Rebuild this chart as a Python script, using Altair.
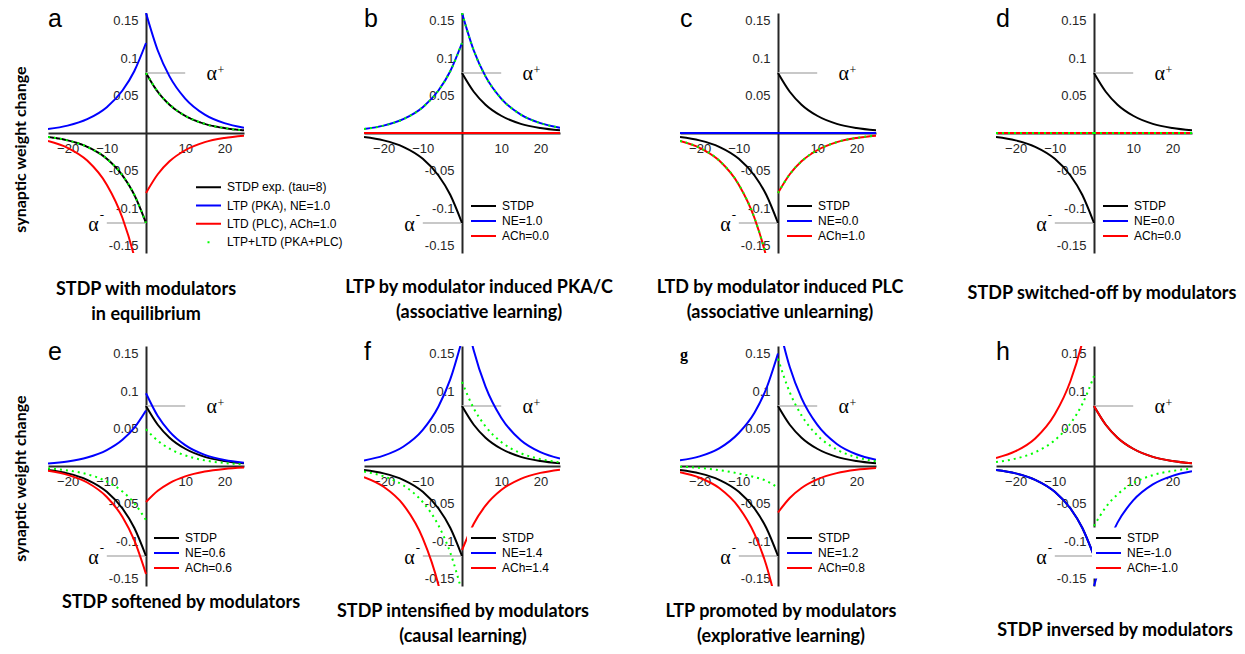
import altair as alt
import pandas as pd

# ---------------- data ----------------
XL = [-25, -20, -15, -10, -6, -3, 0]
XR = [0, 3, 6, 10, 15, 20, 25]

ZERO = [0, 0, 0, 0, 0, 0, 0]

STDP_L = [-0.0053, -0.0098, -0.0184, -0.0344, -0.0567, -0.0824, -0.12]
STDP_R = [0.08, 0.055, 0.0378, 0.023, 0.0122, 0.0066, 0.0035]

NE1_L = [0.0053, 0.0098, 0.0184, 0.0344, 0.0567, 0.0824, 0.12]
NE1_R = [0.16, 0.110, 0.0755, 0.0459, 0.0245, 0.0131, 0.0070]
ACH1_L = [-0.0106, -0.0197, -0.0367, -0.0689, -0.1133, -0.1649, -0.24]
ACH1_R = [-0.08, -0.055, -0.0378, -0.023, -0.0122, -0.0066, -0.0035]

E_NE_L = [0.0033, 0.0061, 0.0113, 0.0212, 0.0349, 0.0508, 0.074]
E_NE_R = [0.097, 0.0666, 0.0458, 0.0278, 0.0148, 0.008, 0.0043]
E_ACH_L = [-0.0063, -0.0118, -0.022, -0.0413, -0.068, -0.0989, -0.144]
E_ACH_R = [-0.048, -0.033, -0.0227, -0.0138, -0.0073, -0.0039, -0.0021]
E_SUM_L = [-0.0032, -0.0059, -0.011, -0.0207, -0.034, -0.0495, -0.072]
E_SUM_R = [0.049, 0.0337, 0.0231, 0.0141, 0.0075, 0.004, 0.0022]

F_NE_L = [0.0074, 0.0138, 0.0257, 0.0482, 0.0793, 0.1154, 0.168]
F_NE_R = [0.224, 0.1539, 0.1057, 0.0643, 0.0343, 0.0184, 0.0099]
F_ACH_L = [-0.0148, -0.0276, -0.0514, -0.0964, -0.1586, -0.2308, -0.336]
F_ACH_R = [-0.112, -0.0769, -0.0529, -0.0321, -0.0171, -0.0092, -0.0049]
F_SUM_L = [-0.0074, -0.0138, -0.0257, -0.0482, -0.0793, -0.1154, -0.168]
F_SUM_R = [0.112, 0.0769, 0.0529, 0.0321, 0.0171, 0.0092, 0.0049]

G_NE_L = [0.0075, 0.0128, 0.0235, 0.044, 0.071, 0.103, 0.15]
G_NE_R = [0.192, 0.1319, 0.0906, 0.0551, 0.0294, 0.0157, 0.0084]
G_ACH_L = [-0.0084, -0.0157, -0.0294, -0.0551, -0.0906, -0.1319, -0.192]
G_ACH_R = [-0.062, -0.0426, -0.0293, -0.0178, -0.0095, -0.0051, -0.0027]
G_SUM_L = [-0.001, -0.0025, -0.0055, -0.010, -0.0148, -0.0198, -0.029]
G_SUM_R = [0.143, 0.0982, 0.0675, 0.041, 0.0219, 0.0117, 0.0063]

H_NE_L = [-0.0053, -0.0098, -0.0184, -0.0344, -0.0567, -0.0824, -0.12]
H_NE_R = [-0.16, -0.110, -0.0755, -0.0459, -0.0245, -0.0131, -0.007]
H_ACH_L = [0.0106, 0.0197, 0.0367, 0.0689, 0.1133, 0.1649, 0.24]
H_ACH_R = [0.08, 0.055, 0.0378, 0.023, 0.0122, 0.0066, 0.0035]
H_SUM_L = [0.0053, 0.0098, 0.0184, 0.0344, 0.0567, 0.0824, 0.12]
H_SUM_R = [-0.08, -0.055, -0.0378, -0.023, -0.0122, -0.0066, -0.0035]

PANEL_IDS = ["a", "b", "c", "d", "e", "f", "g", "h"]
STDP_LABELS = ["STDP exp. (tau=8)", "STDP", "STDP", "STDP", "STDP", "STDP", "STDP", "STDP"]
NE_LABELS = ["LTP (PKA), NE=1.0", "NE=1.0", "NE=0.0", "NE=0.0", "NE=0.6", "NE=1.4", "NE=1.2", "NE=-1.0"]
ACH_LABELS = ["LTD (PLC), ACh=1.0", "ACh=0.0", "ACh=1.0", "ACh=0.0", "ACh=0.6", "ACh=1.4", "ACh=0.8", "ACh=-1.0"]
SUM_LABEL_A = "LTP+LTD (PKA+PLC)"

NE_DATA = [(NE1_L, NE1_R), (NE1_L, NE1_R), (ZERO, ZERO), (ZERO, ZERO),
           (E_NE_L, E_NE_R), (F_NE_L, F_NE_R), (G_NE_L, G_NE_R), (H_NE_L, H_NE_R)]
ACH_DATA = [(ACH1_L, ACH1_R), (ZERO, ZERO), (ACH1_L, ACH1_R), (ZERO, ZERO),
            (E_ACH_L, E_ACH_R), (F_ACH_L, F_ACH_R), (G_ACH_L, G_ACH_R), (H_ACH_L, H_ACH_R)]
SUM_DATA = [(STDP_L, STDP_R), (NE1_L, NE1_R), (ACH1_L, ACH1_R), (ZERO, ZERO),
            (E_SUM_L, E_SUM_R), (F_SUM_L, F_SUM_R), (G_SUM_L, G_SUM_R), (H_SUM_L, H_SUM_R)]

TITLES = [
    ["STDP with modulators", "in equilibrium"],
    ["LTP by modulator induced PKA/C", "(associative learning)"],
    ["LTD by modulator induced PLC", "(associative unlearning)"],
    ["STDP switched-off by modulators"],
    ["STDP softened by modulators"],
    ["STDP intensified by modulators", "(causal learning)"],
    ["LTP promoted by modulators", "(explorative learning)"],
    ["STDP inversed by modulators"],
]

X_TICKS = [-20, -10, 10, 20]
Y_TICKS = [-0.15, -0.1, -0.05, 0.05, 0.1, 0.15]

ALPHA_SEG_X1 = [0, -10]
ALPHA_SEG_X2 = [10, 0]
ALPHA_LEVEL = [0.08, -0.12]
ALPHA_TXT_T = [16.8, -13.4]
ALPHA_TXT_W = [0.0707, -0.1307]

# ---------------- styles ----------------
SANS = "Liberation Sans"
SERIF = "Liberation Serif"
TFONT = "Lato"
C_BLACK, C_BLUE, C_RED, C_GREEN = "#000000", "#0000ff", "#ff0000", "#00ff00"
AX_COL = "#262626"
W, H = 196, 240

LEG_X = [144, 103, 103, 103, 102, 103, 103, 96]
LEG_Y = [162.5, 182.5, 182.5, 182.5, 181.5, 181.5, 181.5, 181.5]
LEG_CLIPH = [17.5, 15, 15, 15, 15, 15, 15, 15]
LEG_ROWPAD = [0.3, 0, 0, 0, 0, 0, 0, 0]
TITLE_OFF = [26, 26, 26, 32, 8, 17, 17, 36]
TITLE_DX = [0, 17, 2, 8, 35, 1, 3, 21]
YTITLE_Y = [136, 132]


def curves(left, right, label):
    rows = []
    for t, w in zip(XL, left):
        rows.append({"t": t, "w": w, "side": "L", "series": label})
    for t, w in zip(XR, right):
        rows.append({"t": t, "w": w, "side": "R", "series": label})
    return pd.DataFrame(rows)


def make_panel(k):
    pid = PANEL_IDS[k]
    row = k // 4
    with_sum = (k == 0)
    labels = [STDP_LABELS[k], NE_LABELS[k], ACH_LABELS[k]]
    colors = [C_BLACK, C_BLUE, C_RED]
    if with_sum:
        labels.append(SUM_LABEL_A)
        colors.append(C_GREEN)
    cscale = alt.Scale(domain=labels, range=colors)

    leg_kw = dict(orient="none", legendX=LEG_X[k], legendY=LEG_Y[k], title=None,
                  symbolType="stroke", symbolSize=625, symbolStrokeWidth=2,
                  labelFont=SANS, labelFontSize=12, labelColor="black", labelOffset=5,
                  fillColor="white", padding=3, rowPadding=LEG_ROWPAD[k],
                  clipHeight=LEG_CLIPH[k], labelLimit=400)
    if with_sum:
        leg_kw["symbolDashOffset"] = -11.5
    legend = alt.Legend(**leg_kw)

    xs = alt.Scale(domain=[-25, 25], nice=False, zero=False)
    ys = alt.Scale(domain=[-0.16, 0.16], nice=False, zero=False)
    xaxis = alt.Axis(values=X_TICKS, offset=-H / 2, title=None, ticks=False, labelPadding=9,
                     domainColor=AX_COL, domainWidth=2, labelColor=AX_COL, labelFont=SANS,
                     labelFontSize=13, grid=False)
    yk = dict(values=Y_TICKS, offset=-W / 2, ticks=False, labelPadding=8, format="~g",
              labelExpr="replace(datum.label, '\u2212', '-')",
              domainColor=AX_COL, domainWidth=2, labelColor=AX_COL, labelFont=SANS,
              labelFontSize=13, grid=False)
    if k in (0, 4):
        yk.update(title="synaptic weight change", titleFont=TFONT, titleFontSize=16,
                  titleFontWeight="bold", titleColor="black", titleAngle=270,
                  titleX=-126, titleY=YTITLE_Y[row], titleAlign="center", titleBaseline="middle")
    else:
        yk.update(title=None)
    yaxis = alt.Axis(**yk)
    X = alt.X("t:Q", scale=xs, axis=xaxis)
    Y = alt.Y("w:Q", scale=ys, axis=yaxis)
    col = alt.Color("series:N", scale=cscale, legend=legend)

    seg = pd.DataFrame({"t": ALPHA_SEG_X1, "t2": ALPHA_SEG_X2, "w": ALPHA_LEVEL})
    rules = alt.Chart(seg).mark_rule(color="#c8c8c8", strokeWidth=2).encode(
        x=X, x2="t2:Q", y=Y)

    line_kw = dict(strokeWidth=2, clip=True, interpolate="monotone")
    enc_black = dict(x=X, y=Y, color=col, detail="side:N")
    if with_sum:
        enc_black["strokeDash"] = alt.StrokeDash(
            "series:N",
            scale=alt.Scale(domain=labels, range=[[1, 0], [1, 0], [1, 0], [2, 30]]),
            legend=legend)
    black = alt.Chart(curves(STDP_L, STDP_R, labels[0])).mark_line(**line_kw).encode(**enc_black)
    blue = alt.Chart(curves(NE_DATA[k][0], NE_DATA[k][1], labels[1])).mark_line(**line_kw).encode(
        x=X, y=Y, color=col, detail="side:N")
    red = alt.Chart(curves(ACH_DATA[k][0], ACH_DATA[k][1], labels[2])).mark_line(**line_kw).encode(
        x=X, y=Y, color=col, detail="side:N")
    gdf = curves(SUM_DATA[k][0], SUM_DATA[k][1], SUM_LABEL_A if with_sum else "sum")
    if with_sum:
        green = alt.Chart(gdf).mark_line(strokeDash=[2, 4], **line_kw).encode(
            x=X, y=Y, color=col, detail="side:N")
    else:
        green = alt.Chart(gdf).mark_line(strokeDash=[2, 4], color=C_GREEN, **line_kw).encode(
            x=X, y=Y, detail="side:N")

    adf = pd.DataFrame({"t": ALPHA_TXT_T, "w": ALPHA_TXT_W, "label": ["\u03b1", "\u03b1"]})
    alpha = alt.Chart(adf).mark_text(font=SERIF, fontSize=20, align="center",
                                     baseline="alphabetic", color="black").encode(
        x=X, y=Y, text="label:N")
    pdf = pd.DataFrame({"t": [ALPHA_TXT_T[0]], "w": [ALPHA_TXT_W[0]], "label": ["+"]})
    sup_p = alt.Chart(pdf).mark_text(font=SERIF, fontSize=12, align="center", baseline="alphabetic",
                                     dx=9, dy=-5.7, color="black").encode(x=X, y=Y, text="label:N")
    mdf = pd.DataFrame({"t": [ALPHA_TXT_T[1]], "w": [ALPHA_TXT_W[1]], "label": ["-"]})
    sup_m = alt.Chart(mdf).mark_text(font=SERIF, fontSize=13, align="center", baseline="alphabetic",
                                     dx=8.5, dy=-12.5, color="black").encode(x=X, y=Y, text="label:N")

    ldf = pd.DataFrame({"t": [-25], "w": [0.141], "label": [pid]})
    if pid == "g":
        lt = dict(font=SERIF, fontSize=16, fontWeight="bold")
    else:
        lt = dict(font=SANS, fontSize=25)
    letter = alt.Chart(ldf).mark_text(align="left", baseline="alphabetic", color="black", **lt).encode(
        x=X, y=Y, text="label:N")

    title = alt.TitleParams(text=TITLES[k], orient="bottom", anchor="middle", frame="group",
                            offset=TITLE_OFF[k], dx=TITLE_DX[k], font=TFONT, fontSize=18,
                            fontWeight="bold", color="black", lineHeight=25, baseline="top")
    return alt.layer(rules, black, blue, red, green, alpha, sup_p, sup_m, letter).properties(
        width=W, height=H, title=title)


panels = [make_panel(k) for k in range(8)]

chart = alt.concat(*panels, columns=4, spacing={"column": 120, "row": 93}, bounds="flush")
chart = chart.resolve_scale(color="independent", strokeDash="independent").resolve_legend(
    color="independent", strokeDash="independent")
chart = chart.properties(padding={"left": 12, "top": 7, "right": 5, "bottom": 5},
                         background="white").configure_view(stroke=None)

chart.save("out.html", embed_options={"renderer": "svg", "actions": False})
